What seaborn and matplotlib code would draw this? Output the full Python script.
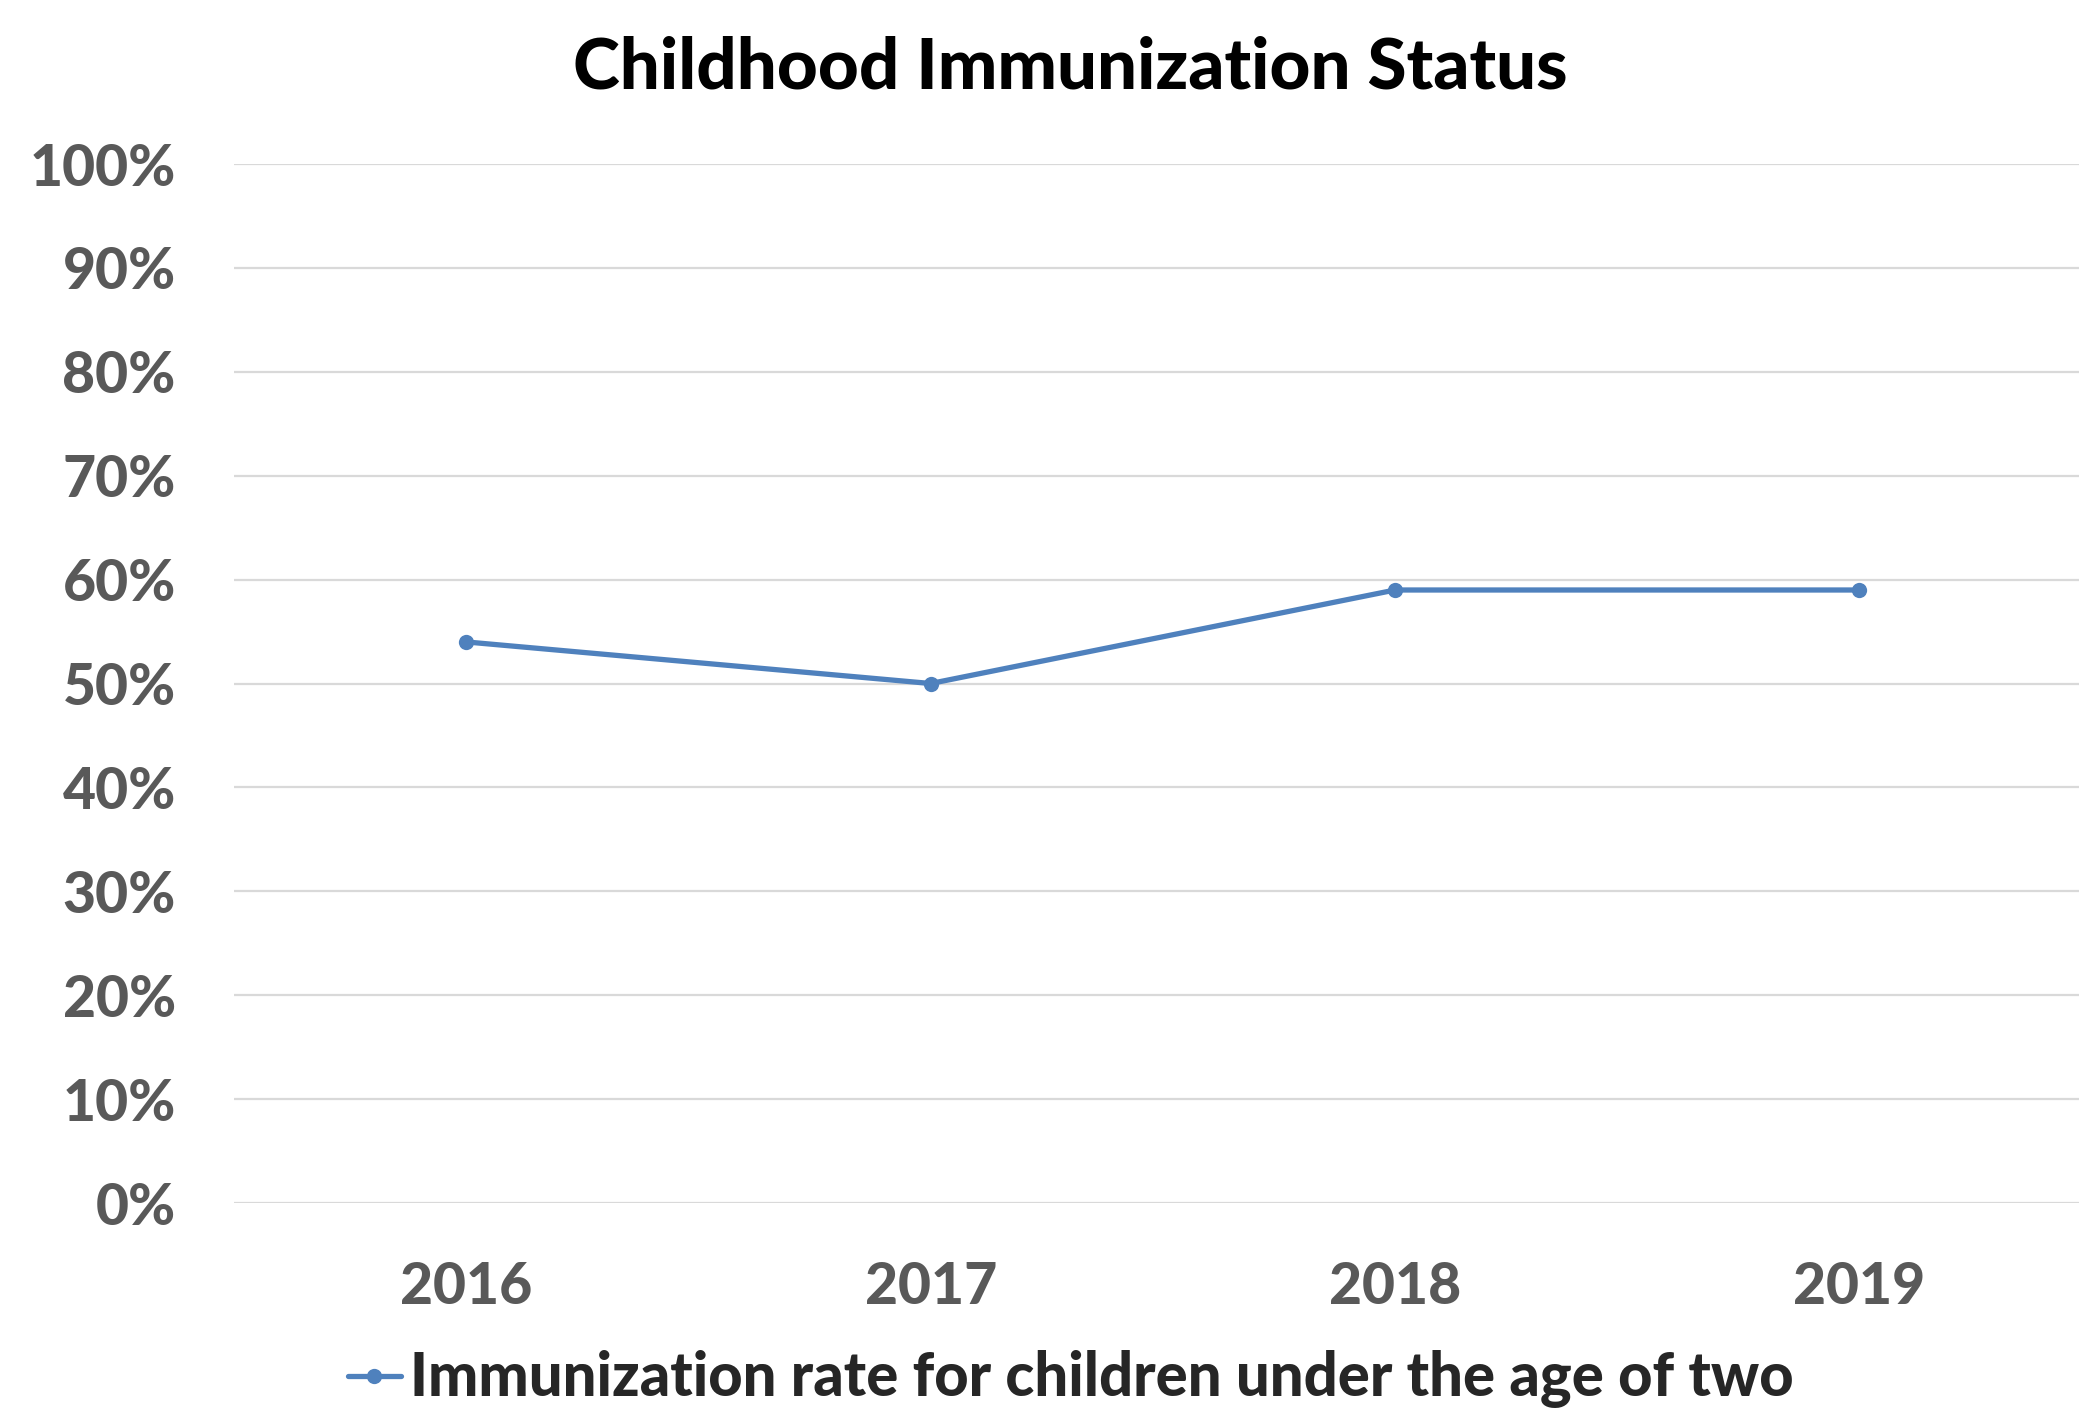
import pandas as pd
import matplotlib.pyplot as plt
import seaborn as sns
from matplotlib.ticker import PercentFormatter

# -----------------------------
# Data
# -----------------------------
years = ["2016", "2017", "2018", "2019"]
rates = [0.54, 0.50, 0.59, 0.59]
series_name = "Immunization rate for children under the age of two"

df = pd.DataFrame({"year": years, "rate": rates, "series": series_name})

# -----------------------------
# Plot
# -----------------------------
sns.set_theme(style="white")
plt.rcParams["font.family"] = ["Lato", "DejaVu Sans"]

fig = plt.figure(figsize=(20.79, 14.09), dpi=100)
# plot area runs slightly past the right edge, like the original export
ax = fig.add_axes([0.1126, 0.1462, 0.8935, 0.7374])

sns.lineplot(data=df, x="year", y="rate", hue="series", palette=["#4f81bd"],
             marker="o", markersize=11, markeredgewidth=0, linewidth=3.8, ax=ax)

ax.set_ylim(0, 1)
ax.set_xlim(-0.5, 3.5)
ax.set_yticks([i / 10 for i in range(11)])
ax.yaxis.set_major_formatter(PercentFormatter(1.0, decimals=0))
ax.grid(axis="y", color="#d9d9d9", linewidth=1.6)
ax.set_axisbelow(True)
for s in ax.spines.values():
    s.set_visible(False)
ax.tick_params(axis="both", length=0, labelsize=41, labelcolor="#595959")
ax.tick_params(axis="y", pad=42)
ax.tick_params(axis="x", pad=42)
for lbl in ax.get_xticklabels() + ax.get_yticklabels():
    lbl.set_fontweight("black")
ax.set_xlabel("")
ax.set_ylabel("")

fig.suptitle("Childhood Immunization Status", fontsize=51, fontweight="black",
             y=0.975, x=0.515, color="black")

handles, labels = ax.get_legend_handles_labels()
ax.legend(handles, labels, loc="center", bbox_to_anchor=(0.515, 0.021),
          bbox_transform=fig.transFigure, frameon=False, handlelength=0.9,
          handletextpad=0.15, borderpad=0, prop={"size": 43, "weight": "black"})

fig.savefig("out.png", dpi=100)
